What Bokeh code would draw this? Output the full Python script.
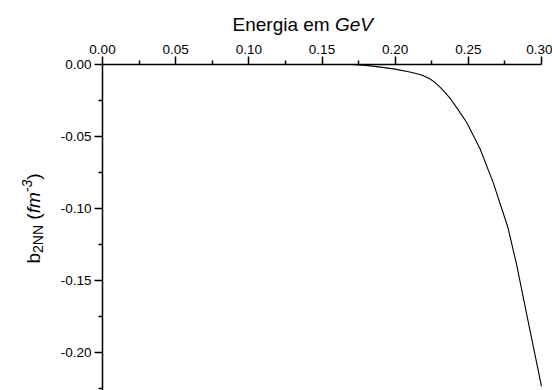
import math
from bokeh.plotting import figure
from bokeh.models import Range1d, FixedTicker, NumeralTickFormatter, LinearAxis, Label
from bokeh.embed import file_html
from bokeh.resources import INLINE

# ---- data ----
energy = [0.00, 0.10, 0.15, 0.17, 0.18, 0.19, 0.20, 0.21, 0.217, 0.2205,
          0.224, 0.2275, 0.231, 0.2345, 0.238, 0.243, 0.249, 0.258, 0.267,
          0.277, 0.283, 0.290, 0.300]
b2nn = [0.0, 0.0, 0.0, 0.0, -0.0006, -0.0018, -0.0032, -0.0052, -0.0069,
        -0.0083, -0.0101, -0.0128, -0.0161, -0.0199, -0.0241, -0.0313,
        -0.0405, -0.0585, -0.0820, -0.1130, -0.1390, -0.1740, -0.2235]
x_ticks = [0.00, 0.05, 0.10, 0.15, 0.20, 0.25, 0.30]
x_minor = [0.025, 0.075, 0.125, 0.175, 0.225, 0.275]
y_ticks = [0.00, -0.05, -0.10, -0.15, -0.20]
y_minor = [-0.025, -0.075, -0.125, -0.175, -0.225]
x_title_parts = ["Energia em", "GeV"]
y_title_parts = ["b", "2NN", "(", "fm", "-3", ")"]

# ---- layout: frame covers whole canvas; axes pinned with fixed_location ----
W, H = 552, 390
ORIG_X, ORIG_Y = 102, 64          # pixel of data (0, 0)
PX_PER_X = (541 - 102) / 0.30
PX_PER_Y = 72 / 0.05


def px2x(px):
    return (px - ORIG_X) / PX_PER_X


def px2y(py):
    return -(py - ORIG_Y) / PX_PER_Y


FONT = "Liberation Sans"

p = figure(width=W, height=H, output_backend="svg", toolbar_location=None,
           x_range=Range1d(px2x(0), px2x(W)), y_range=Range1d(px2y(H), px2y(0)),
           x_axis_location=None, y_axis_location=None,
           min_border=0)
p.outline_line_color = None
p.xgrid.visible = False
p.ygrid.visible = False
p.background_fill_color = "white"
p.border_fill_color = "white"


def style_axis(ax):
    ax.axis_line_color = "black"
    ax.axis_line_width = 1.5
    ax.major_tick_line_color = "black"
    ax.major_tick_line_width = 1.5
    ax.minor_tick_line_color = "black"
    ax.minor_tick_line_width = 1.5
    ax.major_tick_out = 8
    ax.major_tick_in = 0
    ax.minor_tick_out = 4
    ax.minor_tick_in = 0
    ax.major_label_text_font = FONT
    ax.major_label_text_font_size = "13.5px"
    ax.major_label_text_color = "black"
    ax.major_label_standoff = 3
    ax.formatter = NumeralTickFormatter(format="0.00")


xaxis = LinearAxis(ticker=FixedTicker(ticks=x_ticks, minor_ticks=x_minor),
                   fixed_location=0.0, bounds=(min(x_ticks), max(x_ticks)))
style_axis(xaxis)
p.add_layout(xaxis, "above")

yaxis = LinearAxis(ticker=FixedTicker(ticks=y_ticks, minor_ticks=y_minor),
                   fixed_location=0.0, bounds=(px2y(H), 0.0))
style_axis(yaxis)
p.add_layout(yaxis, "left")

p.line(energy, b2nn, line_color="black", line_width=1.1)


def add_label(text, sx, sy, size, style="normal", angle=0.0):
    p.add_layout(Label(x=px2x(sx), y=px2y(sy), x_units="data", y_units="data",
                       text=text, angle=angle, text_font=FONT,
                       text_font_size=f"{size}px", text_font_style=style,
                       text_color="black", text_align="left",
                       text_baseline="alphabetic"))


# widths (em) of Liberation Sans glyph runs, used to place the pieces
EM_ENERGIA_EM_SP = 5.391
EM_B, EM_2NN, EM_SPACE, EM_PAREN, EM_FM, EM_M3 = 0.556, 2.0, 0.278, 0.333, 1.111, 0.889

# x title: "Energia em " + italic "GeV"
TF = 19
xs = 232
add_label(x_title_parts[0], xs, 24, TF)
xs += EM_ENERGIA_EM_SP * TF
add_label(x_title_parts[1], xs, 24, TF, style="italic")

# y title, rotated, built bottom-to-top
SF = 14
base_x = 33
sy = 263
ang = math.pi / 2
add_label(y_title_parts[0], base_x, sy, TF, angle=ang)
sy -= EM_B * TF
add_label(y_title_parts[1], base_x + 4, sy, SF, angle=ang)
sy -= EM_2NN * SF + EM_SPACE * TF
add_label(y_title_parts[2], base_x, sy, TF, angle=ang)
sy -= EM_PAREN * TF
add_label(y_title_parts[3], base_x, sy, TF, style="italic", angle=ang)
sy -= EM_FM * TF
add_label(y_title_parts[4], base_x - 7, sy, SF, style="italic", angle=ang)
sy -= EM_M3 * SF
add_label(y_title_parts[5], base_x, sy, TF, angle=ang)

open("out.html", "w").write(file_html(p, INLINE))
